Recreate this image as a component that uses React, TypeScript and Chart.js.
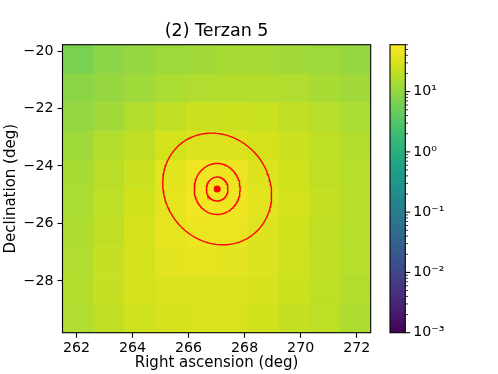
import { useEffect, useRef } from 'react';
import { Chart, registerables } from 'chart.js';

Chart.register(...registerables);

// ---- data ----
const raEdges = [261.5, 262.6, 263.7, 264.8, 265.9, 267.0, 268.1, 269.2, 270.3, 271.4, 272.5];
const decEdges = [-19.78, -20.78, -21.78, -22.79, -23.79, -24.79, -25.79, -26.79, -27.8, -28.8, -29.8];
// counts per cell, rows from top (dec -19.78) to bottom, columns from low RA to high RA
const countsRow0 = [6.6, 8.9, 10.5, 12, 13, 14, 14, 13, 12, 10.5];
const countsRow1 = [8.9, 10.7, 12.5, 15, 16.4, 17, 17, 16.4, 14.5, 13];
const countsRow2 = [10.5, 13, 16.5, 21, 25, 26, 24, 21, 18, 15];
const countsRow3 = [12.5, 17, 21, 30, 33, 34, 30, 25, 20, 17];
const countsRow4 = [14.5, 19, 25, 38, 48, 46, 35, 28, 21, 18];
const countsRow5 = [15, 20, 28, 40, 51, 48, 38, 30, 23, 18.5];
const countsRow6 = [16, 21, 30, 40, 46, 44, 35, 28, 21, 18];
const countsRow7 = [16.4, 23, 30, 38, 40, 38, 33, 27, 21, 18];
const countsRow8 = [17, 23, 30, 33, 35, 33, 31, 26, 20, 17];
const countsRow9 = [16.4, 21, 27, 31, 32, 32, 28, 23, 20, 16];
const counts = [countsRow0, countsRow1, countsRow2, countsRow3, countsRow4, countsRow5, countsRow6, countsRow7, countsRow8, countsRow9];

const xTicks = [262, 264, 266, 268, 270, 272];
const yTicks = [-28, -26, -24, -22, -20];
const cbTicks = [0.001, 0.01, 0.1, 1, 10];
const cbMin = 0.001;
const cbMax = 60;

const sourceRA = 267.02;
const sourceDec = -24.8;
// contour ellipses: semi-axis a, semi-axis b (deg), rotation angle (deg)
const contourA = [2.04, 0.82, 0.386];
const contourB = [1.84, 0.887, 0.417];
const contourAngle = [-45, 0, 0];

const TITLE = '(2) Terzan 5';
const XLABEL = 'Right ascension (deg)';
const YLABEL = 'Declination (deg)';

// ---- helpers ----
const FONT = 'DejaVu Sans';
const viridisStops: [number, string][] = [
  [0.0, '#440154'], [0.0667, '#481a6c'], [0.1, '#482475'], [0.1333, '#472f7d'],
  [0.2, '#414487'], [0.2667, '#39568c'], [0.3, '#355f8d'], [0.3333, '#31688e'],
  [0.4, '#2a788e'], [0.4667, '#23888e'], [0.5, '#21918c'], [0.5333, '#1f988b'],
  [0.6, '#22a884'], [0.6667, '#35b779'], [0.7, '#44bf70'], [0.7333, '#54c568'],
  [0.8, '#7ad151'], [0.8667, '#a5db36'], [0.9, '#bddf26'], [0.9333, '#d2e21b'],
  [1.0, '#fde725'],
];
const hex = (h: string) => [parseInt(h.slice(1, 3), 16), parseInt(h.slice(3, 5), 16), parseInt(h.slice(5, 7), 16)];
function viridis(t: number) {
  t = Math.max(0, Math.min(1, t));
  for (let i = 1; i < viridisStops.length; i++) {
    const [t1, c1] = viridisStops[i];
    if (t <= t1) {
      const [t0, c0] = viridisStops[i - 1];
      const f = (t - t0) / (t1 - t0);
      const a = hex(c0), b = hex(c1);
      return `rgb(${Math.round(a[0] + (b[0] - a[0]) * f)},${Math.round(a[1] + (b[1] - a[1]) * f)},${Math.round(a[2] + (b[2] - a[2]) * f)})`;
    }
  }
  return viridisStops[viridisStops.length - 1][1];
}
const norm = (v: number) => (Math.log10(v) - Math.log10(cbMin)) / (Math.log10(cbMax) - Math.log10(cbMin));

function ellipse(a: number, b: number, angDeg: number) {
  const th = (angDeg * Math.PI) / 180;
  const pts: { x: number; y: number }[] = [];
  const n = 160;
  for (let k = 0; k <= n; k++) {
    const t = (k / n) * Math.PI * 2;
    pts.push({
      x: sourceRA + a * Math.cos(t) * Math.cos(th) - b * Math.sin(t) * Math.sin(th),
      y: sourceDec + a * Math.cos(t) * Math.sin(th) + b * Math.sin(t) * Math.cos(th),
    });
  }
  return pts;
}

const SUP: Record<string, string> = { '0': '⁰', '1': '¹', '2': '²', '3': '³', '4': '⁴', '5': '⁵', '6': '⁶', '7': '⁷', '8': '⁸', '9': '⁹', '-': '⁻' };
const cbLabel = (v: number) => '10' + String(Math.round(Math.log10(v))).split('').map((c) => SUP[c]).join('');
const fmtNum = (v: number) => (v < 0 ? '\u2212' + Math.abs(v) : String(v));

const noPad = (s: any) => { s.paddingTop = 0; s.paddingBottom = 0; s.paddingLeft = 0; s.paddingRight = 0; };

const heatmapPlugin = {
  id: 'heatmap',
  beforeDatasetsDraw(chart: any) {
    const { ctx, chartArea, scales } = chart;
    const xs = scales.x, ys = scales.y;
    ctx.save();
    ctx.beginPath();
    ctx.rect(chartArea.left, chartArea.top, chartArea.right - chartArea.left, chartArea.bottom - chartArea.top);
    ctx.clip();
    for (let i = 0; i < counts.length; i++) {
      for (let j = 0; j < counts[i].length; j++) {
        const x0 = xs.getPixelForValue(raEdges[j]);
        const x1 = xs.getPixelForValue(raEdges[j + 1]);
        const y0 = ys.getPixelForValue(decEdges[i]);
        const y1 = ys.getPixelForValue(decEdges[i + 1]);
        ctx.fillStyle = viridis(norm(counts[i][j]));
        ctx.fillRect(Math.min(x0, x1), Math.min(y0, y1), Math.abs(x1 - x0) + 0.6, Math.abs(y1 - y0) + 0.6);
      }
    }
    ctx.restore();
  },
  afterDatasetsDraw(chart: any) {
    const { ctx, chartArea } = chart;
    ctx.save();
    ctx.strokeStyle = '#000';
    ctx.lineWidth = 1.1;
    ctx.strokeRect(chartArea.left, chartArea.top, chartArea.right - chartArea.left, chartArea.bottom - chartArea.top);
    // colorbar
    const cb = chart.scales.cb;
    const left = chartArea.right + 19.3;
    const w = 15.3;
    const top = cb.getPixelForValue(cbMax);
    const bottom = cb.getPixelForValue(cbMin);
    const g = ctx.createLinearGradient(0, bottom, 0, top);
    viridisStops.forEach(([t, c]) => g.addColorStop(t, c));
    ctx.fillStyle = g;
    ctx.fillRect(left, top, w, bottom - top);
    ctx.strokeRect(left, top, w, bottom - top);
    for (let k = -3; k <= 1; k++) {
      for (let m = 1; m <= 9; m++) {
        const v = m * Math.pow(10, k);
        if (v > cbMax) break;
        const py = cb.getPixelForValue(v);
        const len = m === 1 ? 4.9 : 2.8;
        ctx.lineWidth = m === 1 ? 1.1 : 0.8;
        ctx.beginPath();
        ctx.moveTo(left + w, py);
        ctx.lineTo(left + w + len, py);
        ctx.stroke();
      }
    }
    ctx.restore();
  },
};

export default function App() {
  const ref = useRef<HTMLCanvasElement>(null);
  useEffect(() => {
    const canvas = ref.current;
    if (!canvas) return;
    const tickFont = { family: FONT, size: 14.2 };
    const labelFont = { family: FONT, size: 15 };
    const chart = new Chart(canvas, {
      type: 'scatter',
      data: {
        datasets: [
          {
            data: [{ x: sourceRA, y: sourceDec }],
            pointRadius: 3.5,
            pointBackgroundColor: '#ff0000',
            pointBorderWidth: 0,
            xAxisID: 'x',
            yAxisID: 'y',
          } as any,
          ...contourA.map((a, i) => ({
            data: ellipse(a, contourB[i], contourAngle[i]),
            showLine: true,
            pointRadius: 0,
            borderColor: '#ff0000',
            borderWidth: 1.4,
            fill: false,
            tension: 0,
            xAxisID: 'x',
            yAxisID: 'y',
          })),
        ],
      },
      options: {
        animation: false,
        responsive: false,
        devicePixelRatio: 1,
        layout: { padding: 0 },
        plugins: {
          legend: { display: false },
          tooltip: { enabled: false },
          title: {
            display: true,
            text: TITLE,
            fullSize: false,
            color: '#000',
            font: { family: FONT, size: 17.5, weight: 'normal' as any },
            padding: { top: 21.15, bottom: 2.55 },
          },
        },
        scales: {
          x: {
            type: 'linear',
            position: 'bottom',
            min: raEdges[0],
            max: raEdges[raEdges.length - 1],
            afterBuildTicks: (s: any) => { s.ticks = xTicks.map((v) => ({ value: v })); },
            afterFit: (s: any) => { s.height = 41.3; noPad(s); },
            grid: { display: true, drawOnChartArea: false, drawTicks: true, tickLength: 5, tickColor: '#000', tickWidth: 1.1 },
            border: { display: false },
            ticks: { color: '#000', font: tickFont, padding: 2.6, maxRotation: 0, autoSkip: false, callback: (v: any) => fmtNum(Number(v)) },
            title: { display: true, text: XLABEL, color: '#000', font: labelFont, padding: { top: 0, bottom: 2.1 } },
          },
          y: {
            type: 'linear',
            position: 'left',
            min: decEdges[decEdges.length - 1],
            max: decEdges[0],
            afterBuildTicks: (s: any) => { s.ticks = yTicks.map((v) => ({ value: v })); },
            afterFit: (s: any) => { s.width = 62.5; noPad(s); },
            grid: { display: true, drawOnChartArea: false, drawTicks: true, tickLength: 5, tickColor: '#000', tickWidth: 1.1 },
            border: { display: false },
            ticks: { color: '#000', font: tickFont, padding: 4, autoSkip: false, callback: (v: any) => fmtNum(Number(v)) },
            title: { display: true, text: YLABEL, color: '#000', font: labelFont, padding: { top: 2.5, bottom: 0 } },
          },
          cb: {
            type: 'logarithmic',
            position: 'right',
            min: cbMin,
            max: cbMax,
            afterBuildTicks: (s: any) => { s.ticks = cbTicks.map((v) => ({ value: v })); },
            afterFit: (s: any) => { s.width = 127.3; noPad(s); },
            grid: { display: false, drawTicks: false, drawOnChartArea: false },
            border: { display: false },
            ticks: { color: '#000', font: tickFont, padding: 42.6, autoSkip: false, callback: (v: any) => cbLabel(Number(v)) },
          },
        } as any,
      },
      plugins: [heatmapPlugin],
    } as any);
    return () => chart.destroy();
  }, []);
  return (
    <div style={{ position: 'absolute', left: 0, top: 0, width: 498, height: 374, background: '#fff' }}>
      <canvas ref={ref} width={498} height={374} style={{ display: 'block' }} />
    </div>
  );
}
